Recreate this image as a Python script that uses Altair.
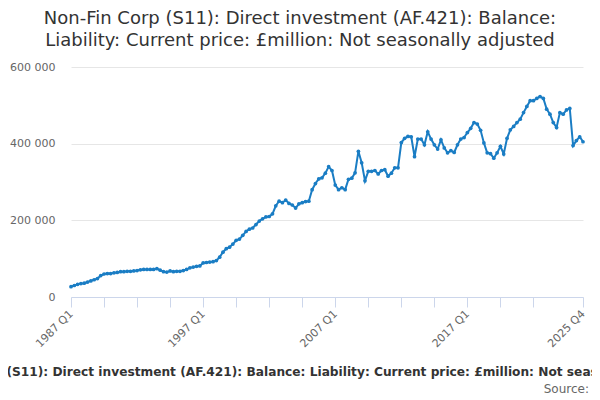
import altair as alt
import pandas as pd

START_YEAR = 1987
QUARTERS = ["Q1", "Q2", "Q3", "Q4"]

# £million, quarterly 1987 Q1 .. 2025 Q4
values = [
    27000, 30000, 33000, 35000, 36000, 39000, 42000, 45000, 48000, 56000,
    60000, 61000, 61000, 63000, 64000, 66000, 66000, 67000, 67000, 68000,
    69000, 71000, 72000, 72000, 72000, 72000, 74000, 70000, 66000, 65000,
    68000, 66000, 67000, 67000, 69000, 72000, 76000, 78000, 80000, 81000,
    89000, 90000, 91000, 92000, 95000, 104000, 117000, 126000, 130000, 138000,
    148000, 151000, 161000, 171000, 177000, 180000, 189000, 198000, 204000, 209000,
    210000, 217000, 238000, 250000, 246000, 253000, 244000, 240000, 232000, 243000,
    246000, 249000, 250000, 280000, 296000, 308000, 311000, 323000, 340000, 330000,
    292000, 280000, 285000, 280000, 307000, 310000, 324000, 380000, 350000, 303000,
    328000, 328000, 330000, 321000, 330000, 332000, 315000, 323000, 337000, 337000,
    403000, 414000, 419000, 418000, 366000, 412000, 412000, 397000, 431000, 412000,
    397000, 386000, 410000, 389000, 376000, 382000, 377000, 397000, 412000, 416000,
    429000, 440000, 455000, 451000, 435000, 402000, 376000, 374000, 362000, 376000,
    393000, 373000, 414000, 436000, 445000, 455000, 464000, 481000, 497000, 512000,
    512000, 518000, 523000, 518000, 490000, 477000, 455000, 442000, 481000, 477000,
    488000, 492000, 395000, 408000, 418000, 405000,
]

labelled_ticks = ["1987 Q1", "1997 Q1", "2007 Q1", "2017 Q1", "2025 Q4"]
y_ticks = [0, 200000, 400000, 600000]

title_lines = [
    "Non-Fin Corp (S11): Direct investment (AF.421): Balance:",
    "Liability: Current price: £million: Not seasonally adjusted",
]
caption = ("Non-Fin Corp (S11): Direct investment (AF.421): Balance: Liability: "
           "Current price: £million: Not seasonally adjusted")
source_text = "Source:"

quarter_labels = [f"{START_YEAR + k // 4} {QUARTERS[k % 4]}" for k in range(len(values))]
df = pd.DataFrame({"quarter": quarter_labels, "value": values})

tick_values = quarter_labels[0:150:10] + [quarter_labels[-1]]
label_js = "[" + ",".join(f"'{t}'" for t in labelled_ticks) + "]"

FONT = "DejaVu Sans"
BLUE = "#1a7dc4"

base = alt.Chart(df)

line = base.mark_line(
    color=BLUE, strokeWidth=2,
    point=alt.OverlayMarkDef(color=BLUE, size=14, filled=True, opacity=1),
).encode(
    x=alt.X(
        "quarter:O", sort=quarter_labels,
        scale=alt.Scale(type="point", padding=0),
        axis=alt.Axis(
            title=None, values=tick_values,
            labelExpr=f"indexof({label_js}, datum.value) >= 0 ? datum.value : ''",
            labelAngle=-45, labelAlign="right", labelBaseline="middle",
            labelFont=FONT, labelFontSize=11, labelColor="#666666",
            labelPadding=5, labelOverlap=False,
            tickColor="#ccd6eb", tickSize=10, tickWidth=1,
            domainColor="#ccd6eb", domainWidth=1, grid=False,
        ),
    ),
    y=alt.Y(
        "value:Q",
        scale=alt.Scale(domain=[0, 600000], nice=False),
        axis=alt.Axis(
            title=None, values=y_ticks,
            labelExpr="datum.value == 0 ? '0' : format(datum.value / 1000, 'd') + ' 000'",
            labelFont=FONT, labelFontSize=11, labelColor="#666666", labelPadding=16,
            ticks=False, domain=False, gridColor="#e6e6e6", gridWidth=1,
        ),
    ),
)

cap = alt.Chart(pd.DataFrame({"t": [caption]})).mark_text(
    font=FONT, fontSize=12.2, fontWeight="bold", color="#333333",
    align="center", baseline="alphabetic",
).encode(x=alt.value(237), y=alt.value(309), text="t:N")

src = alt.Chart(pd.DataFrame({"t": [source_text]})).mark_text(
    font=FONT, fontSize=12, color="#666666",
    align="right", baseline="alphabetic",
).encode(x=alt.value(518), y=alt.value(326), text="t:N")

chart = alt.layer(line, cap, src).properties(
    width=512, height=230,
    autosize=alt.AutoSizeParams(type="none"),
    padding={"left": 63, "top": 59, "right": 9, "bottom": 98},
    title=alt.Title(
        title_lines, font=FONT, fontSize=18, fontWeight="normal", color="#333333",
        anchor="middle", dx=-27, offset=11, lineHeight=22,
    ),
).configure_view(stroke=None)

chart.save("out.html", embed_options={"renderer": "svg", "actions": False})
